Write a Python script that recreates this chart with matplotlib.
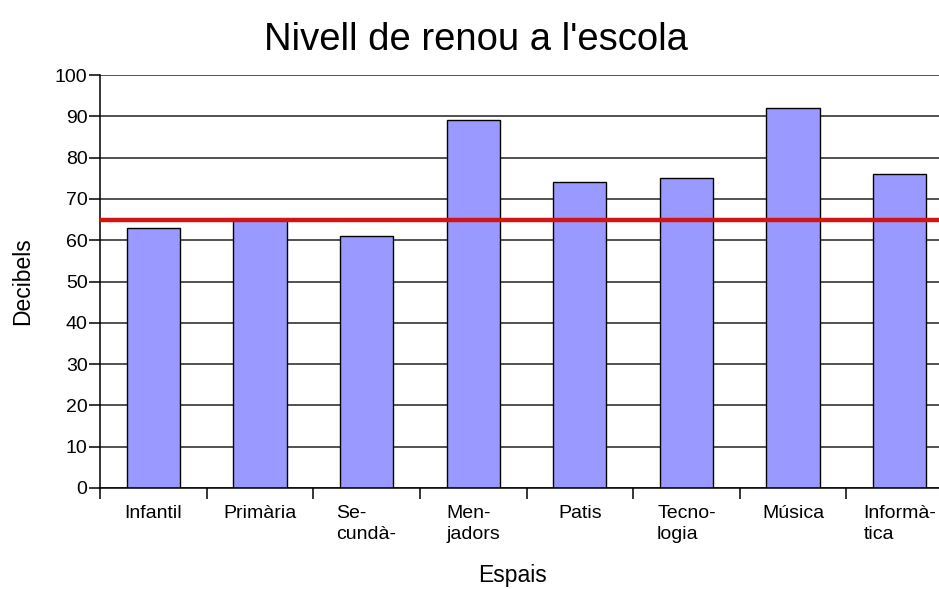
import matplotlib
matplotlib.use("Agg")
import matplotlib.pyplot as plt

plt.rcParams['font.family'] = ['Liberation Sans', 'DejaVu Sans']

espais = ['Infantil', 'Primària', 'Se-\ncundà-', 'Men-\njadors', 'Patis',
          'Tecno-\nlogia', 'Música', 'Informà-\ntica']
decibels = [63, 65, 61, 89, 74, 75, 92, 76]
limit = 65
yticks = list(range(0, 101, 10))

fig = plt.figure(figsize=(9.39, 5.89), dpi=100)
ax = fig.add_axes([100 / 939, 101 / 589, 853 / 939, 413 / 589])

x = list(range(len(espais)))
ax.bar(x, decibels, width=0.5, color='#9999FF', edgecolor='black',
       linewidth=1.0, zorder=2)
ax.axhline(limit, color='#D41414', linewidth=3.2, zorder=3)

ax.set_xlim(-0.5, len(espais) - 0.5)
ax.set_ylim(0, 100)
ax.set_yticks(yticks)
ax.yaxis.grid(True, color='#222222', linewidth=1.1, zorder=0)
ax.set_axisbelow(True)

# category ticks at boundaries, labels at centers
ax.set_xticks([i - 0.5 for i in range(len(espais) + 1)])
ax.set_xticklabels([])
ax.set_xticks(x, minor=True)
ax.set_xticklabels(espais, minor=True, fontsize=14, ha='center',
                   multialignment='left', va='top', linespacing=1.35)
ax.tick_params(axis='x', which='minor', length=0, pad=12)
ax.tick_params(axis='x', which='major', length=8, width=1.1, direction='out')
ax.tick_params(axis='y', length=8, width=1.1, direction='out', labelsize=14, pad=1)

for side in ['top', 'right']:
    ax.spines[side].set_visible(False)
ax.spines['left'].set_linewidth(1.1)
ax.spines['bottom'].set_linewidth(1.1)

ax.set_title("Nivell de renou a l'escola", fontsize=27.5, pad=18,
             x=(476 - 100) / 853)
ax.set_ylabel('Decibels', fontsize=16.5)
ax.yaxis.set_label_coords(-(100 - 34) / 853, 0.5, transform=ax.transAxes)
ax.set_xlabel('Espais', fontsize=16.5)
ax.xaxis.set_label_coords((513 - 100) / 853, -0.185, transform=ax.transAxes)

fig.savefig('out.png', dpi=100)
